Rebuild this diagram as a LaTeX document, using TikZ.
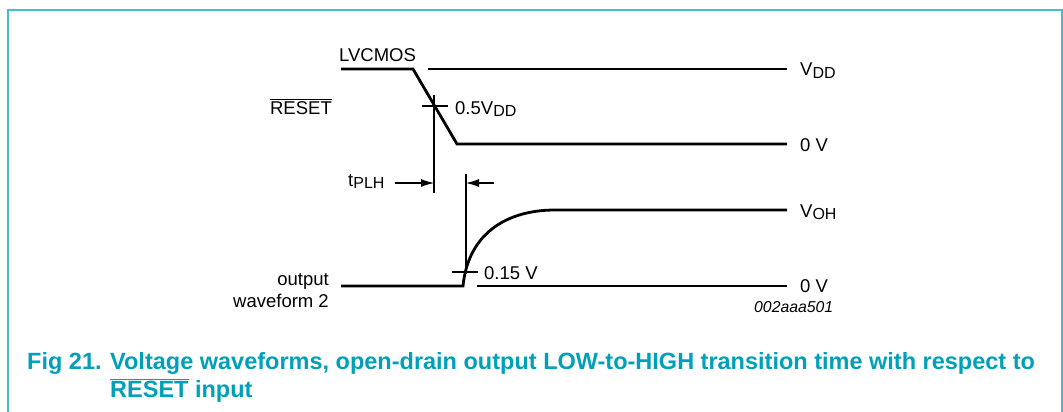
\documentclass[tikz,border=0pt]{standalone}
\usepackage{fontspec}
\setmainfont{Liberation Sans}
\usetikzlibrary{arrows.meta}
\definecolor{capteal}{RGB}{0,160,184}
\definecolor{frameteal}{RGB}{70,188,204}
\newcommand{\subtxt}[1]{\raisebox{-0.3ex}{\fontsize{16}{16}\selectfont #1}}
\newcommand{\ovltxt}[1]{$\overline{\hbox{#1}}$}
\tikzset{
  wave/.style={line width=2.8pt, line join=miter},
  level/.style={line width=1.1pt},
  lbl/.style={inner sep=0pt, anchor=base west, font=\fontsize{18.5}{22}\selectfont},
  rlbl/.style={lbl, anchor=base east},
  captxt/.style={inner sep=0pt, anchor=base west, text=capteal,
    font=\bfseries\fontsize{23.5}{28}\selectfont},
  tpl/.style={-{Latex[length=13pt,width=8pt]}, line width=1.1pt},
}
\begin{document}
\begin{tikzpicture}[x=1pt,y=-1pt]
\useasboundingbox (0,0) rectangle (1063,412);
% frame
\draw[frameteal, line width=2pt] (8,412) -- (8,10) -- (1062,10) -- (1062,412);

% reset input waveform
\coordinate (r0) at (341,69);
\coordinate (r1) at (413,69);
\coordinate (r2) at (457,144);
\coordinate (r3) at (787,144);
\draw[wave] (r0) -- (r1) -- (r2) -- (r3);
\coordinate (vdda) at (428,69);
\coordinate (vddb) at (787,69);
\draw[level] (vdda) -- (vddb);

% output waveform
\coordinate (o0) at (341,286);
\coordinate (o1) at (463,286);
\coordinate (o2) at (555,210);
\coordinate (o3) at (787,210);
\draw[wave] (o0) -- (o1) .. controls (468,235) and (505,210) .. (o2) -- (o3);
\coordinate (gnda) at (477,286);
\coordinate (gndb) at (787,286);
\draw[level] (gnda) -- (gndb);

% measuring marks
\coordinate (hm) at (435,106);
\draw[level] (422,106) -- (448,106);
\coordinate (ma) at (434,95);
\coordinate (mb) at (434,193);
\draw[level] (ma) -- (mb);
\coordinate (lm) at (466,272);
\draw[level] (452,272) -- (478,272);
\coordinate (mc) at (466,174);
\coordinate (md) at (466,274);
\draw[level] (mc) -- (md);

% tPLH arrows
\coordinate (aa) at (395,183);
\coordinate (ab) at (434,183);
\coordinate (ac) at (494,183);
\coordinate (ad) at (466,183);
\draw[tpl] (aa) -- (ab);
\draw[tpl] (ac) -- (ad);

% labels
\node[lbl] (lvcmos) at (339,62) {LVCMOS};
\node[rlbl] (reset) at (332,114) {\ovltxt{RESET}};
\node[lbl] (half) at (455,114) {0.5V\subtxt{DD}};
\node[lbl] (vdd) at (800,76) {V\subtxt{DD}};
\node[lbl] (zeroa) at (800,151) {0 V};
\node[lbl] (tplh) at (348,186) {t\subtxt{PLH}};
\node[lbl] (voh) at (800,217) {V\subtxt{OH}};
\node[lbl] (lowv) at (484,279) {0.15 V};
\node[lbl] (zerob) at (800,292) {0 V};
\node[rlbl] (outa) at (329,285) {output};
\node[rlbl] (outb) at (329,307) {waveform 2};
\node[lbl, font=\itshape\fontsize{15.8}{18}\selectfont] (code) at (754,312) {002aaa501};

% caption
\node[captxt] (fig) at (27,369) {Fig 21.};
\node[captxt] (capa) at (110,369) {Voltage waveforms, open-drain output LOW-to-HIGH transition time with respect to};
\node[captxt] (capb) at (110,397) {\ovltxt{RESET} input};
\end{tikzpicture}
\end{document}
